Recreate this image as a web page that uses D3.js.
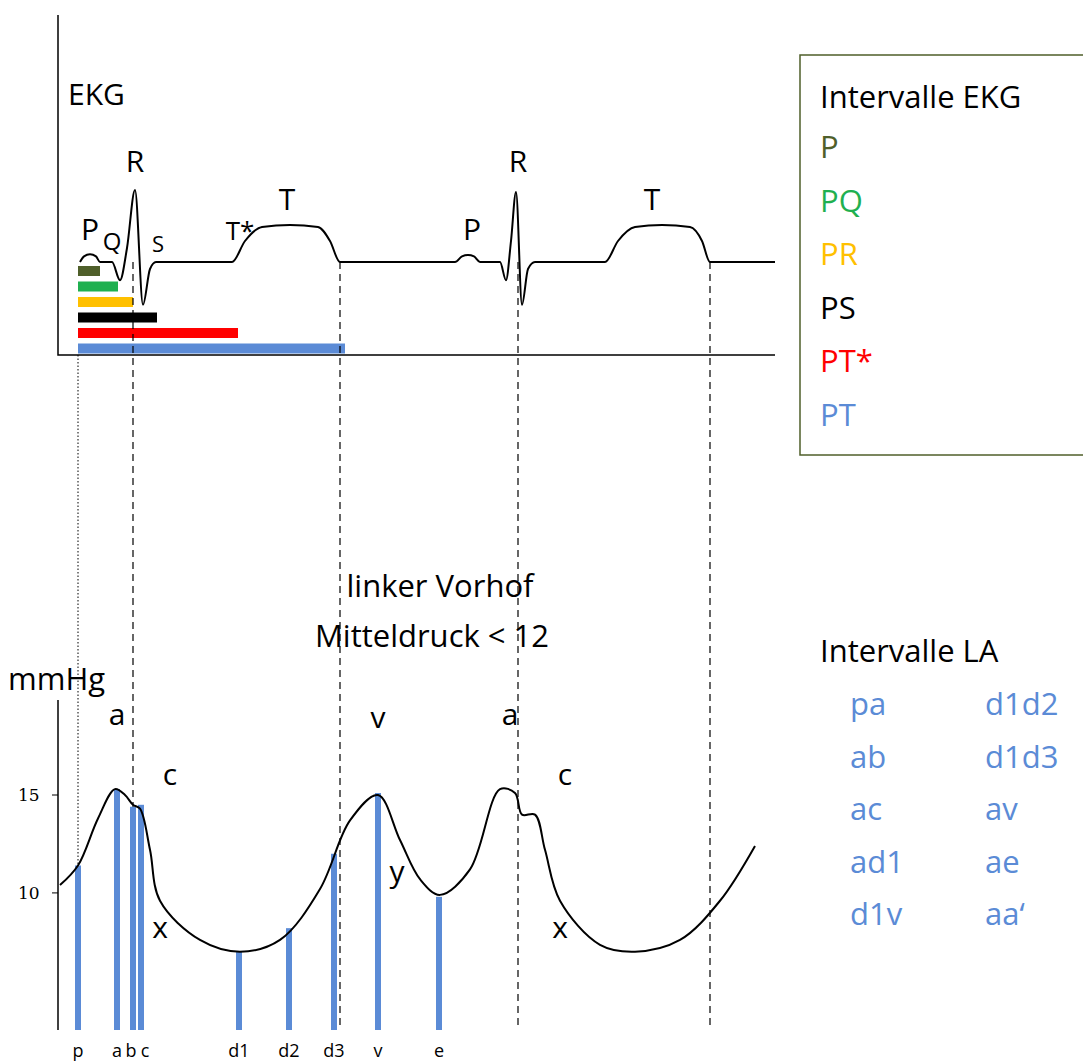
<!DOCTYPE html>
<html><head><meta charset="utf-8">
<script src="https://cdn.jsdelivr.net/npm/d3@7"></script>
<style>body{margin:0;background:#fff}text{font-family:"Open Sans",sans-serif}</style>
</head><body><div id="chart"></div>
<script>
// ---- data ----
// EKG trace: time (px units) and voltage (mV)
const ekgT = [80,84,90,96,100,112,120,127,135,143,150,156,232,245,262,290,318,330,340,440,455,462,468,474,480,500,506,511,516,522,528,535,605,618,635,662,690,702,710,775];
const ekgV = [0,0.08,0.11,0.08,0,0,-0.26,0.2,1.03,-0.61,-0.1,0,0,0.3,0.5,0.53,0.5,0.3,0,0,0,0.08,0.1,0.08,0,0,-0.26,0.3,1.0,-0.61,-0.1,0,0,0.3,0.5,0.53,0.5,0.3,0,0];
const ekgLabels = [["EKG",68,105,30],["R",135,172,30],["T",287,210,30],["P",90,240,30],["Q",112,250,24],["S",158,252,22],["T*",240,240,26],["P",472,240,30],["R",518,172,30],["T",652,210,30]];
const intNames = ["P","PQ","PR","PS","PT*","PT"];
const intEnd = [100,118,133,157,238,345];
const intColors = ["#4f5f2a","#1fb050","#ffc000","#000000","#ff0000","#5b8bd6"];
// LA pressure curve: time and mmHg
const laT = [60,78,98,115,125,133,140,150,160,200,240,280,320,350,378,400,420,440,470,500,515,522,535,545,560,600,635,680,720,755];
const laP = [10.4,11.4,13.8,15.3,15.0,14.5,14.3,12.2,9.6,7.6,7.0,7.6,10.2,13.7,15.0,12.7,10.7,9.9,11.2,15.3,15.1,14.0,14.0,12.2,9.6,7.35,7.0,7.6,9.6,12.4];
const markNames = ["p","a","b","c","d1","d2","d3","v","e"];
const markT = [78,117,133,141,239,289,334,378,439];
const markP = [11.4,15.3,14.4,14.5,7.0,8.2,12.0,15.1,9.8];
const waveLabels = [["a",117,725],["c",170,785],["x",160,938],["v",378,728],["y",397,882],["a",510,725],["c",565,785],["x",560,938]];
const laLeft = ["pa","ab","ac","ad1","d1v"];
const laRight = ["d1d2","d1d3","av","ae","aa\u2018"];
const dashT = [133,340,518,710];

const W = 1083, H = 1064;
const svg = d3.select("#chart").append("svg").attr("width", W).attr("height", H);
const x = d3.scaleLinear().domain([0, 1083]).range([0, 1083]);
const yE = d3.scaleLinear().domain([0, 1]).range([262, 192]);
const yP = d3.scaleLinear().domain([3, 15]).range([1030, 795]);

// ---- EKG panel ----
svg.append("path").attr("d", `M${x(58)},15V355H${x(775)}`).attr("fill","none").attr("stroke","#000").attr("stroke-width",1.5);
svg.append("path").datum(d3.zip(ekgT, ekgV))
  .attr("d", d3.line().x(d => x(d[0])).y(d => yE(d[1])).curve(d3.curveMonotoneX))
  .attr("fill","none").attr("stroke","#000").attr("stroke-width",2);
intEnd.forEach((e, i) => svg.append("rect").attr("x", x(78)).attr("y", 266 + i*15.5).attr("width", x(e)-x(78)).attr("height", 10).attr("fill", intColors[i]));
ekgLabels.forEach(d => svg.append("text").attr("x", d[1]).attr("y", d[2]).attr("text-anchor", d[0]==="EKG"?"start":"middle").style("font-size", d[3]+"px").text(d[0]));

// dashed guides
dashT.forEach(t => svg.append("line").attr("x1",x(t)).attr("x2",x(t)).attr("y1",262).attr("y2",1030).attr("stroke","#000").attr("stroke-width",1.2).attr("stroke-dasharray","7,5"));
svg.append("line").attr("x1",x(78)).attr("x2",x(78)).attr("y1",355).attr("y2",865).attr("stroke","#000").attr("stroke-dasharray","1.5,2");

// EKG legend
svg.append("rect").attr("x",800).attr("y",55).attr("width",300).attr("height",400).attr("fill","none").attr("stroke","#4f5f2a").attr("stroke-width",1.5);
svg.append("text").attr("x",820).attr("y",108).style("font-size","31px").text("Intervalle EKG");
intNames.forEach((n, i) => svg.append("text").attr("x",820).attr("y",158 + i*53.5).style("font-size","31px").attr("fill", intColors[i]).text(n));

// ---- LA panel ----
svg.append("text").attr("x",440).attr("y",597).attr("text-anchor","middle").style("font-size","31px").text("linker Vorhof");
svg.append("text").attr("x",432).attr("y",647).attr("text-anchor","middle").style("font-size","31px").text("Mitteldruck < 12");
svg.append("text").attr("x",8).attr("y",690).style("font-size","31px").text("mmHg");
svg.append("line").attr("x1",58).attr("x2",58).attr("y1",700).attr("y2",1030).attr("stroke","#000").attr("stroke-width",1.5);
[10,15].forEach(v => {
  svg.append("line").attr("x1",52).attr("x2",58).attr("y1",yP(v)).attr("y2",yP(v)).attr("stroke","#000");
  svg.append("text").attr("x",18).attr("y",yP(v)+6).style("font-family","'DejaVu Serif',serif").style("font-size","17px").text(v);
});
markT.forEach((t, i) => svg.append("rect").attr("x", x(t)-3).attr("y", yP(markP[i])).attr("width", 6).attr("height", 1030 - yP(markP[i])).attr("fill","#5b8bd6"));
svg.append("path").datum(d3.zip(laT, laP))
  .attr("d", d3.line().x(d => x(d[0])).y(d => yP(d[1])).curve(d3.curveCatmullRom))
  .attr("fill","none").attr("stroke","#000").attr("stroke-width",2);
markNames.forEach((n, i) => {
  let xx = x(markT[i]);
  if (n === "b") xx -= 2; if (n === "c") xx += 4;
  svg.append("text").attr("x", xx).attr("y", 1057).attr("text-anchor","middle").style("font-size","18px").text(n);
});
waveLabels.forEach(d => svg.append("text").attr("x",d[1]).attr("y",d[2]).attr("text-anchor","middle").style("font-size","30px").text(d[0]));

// LA legend
svg.append("text").attr("x",820).attr("y",662).style("font-size","31px").text("Intervalle LA");
laLeft.forEach((n, i) => svg.append("text").attr("x",850).attr("y",715 + i*52.5).style("font-size","31px").attr("fill","#5b8bd6").text(n));
laRight.forEach((n, i) => svg.append("text").attr("x",985).attr("y",715 + i*52.5).style("font-size","31px").attr("fill","#5b8bd6").text(n));
</script></body></html>
